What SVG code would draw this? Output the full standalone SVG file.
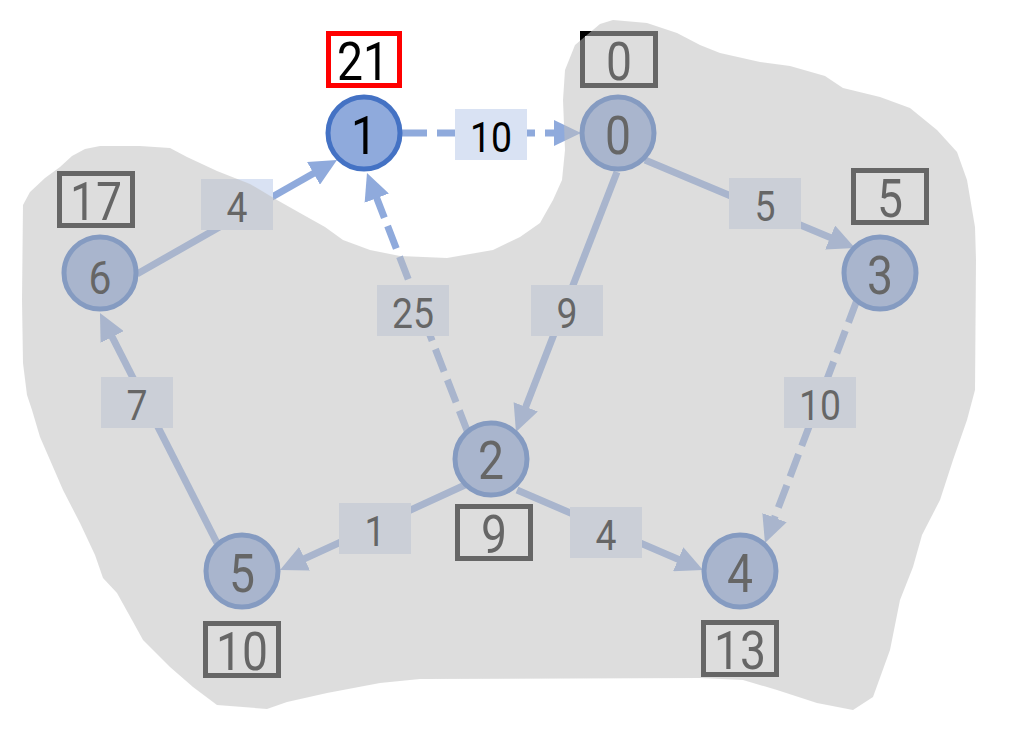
<svg xmlns="http://www.w3.org/2000/svg" width="1017" height="732" viewBox="0 0 1017 732">
<style>
.edge{stroke:#8faadc;stroke-width:7;fill:none}
.dash{stroke-dasharray:26 10}
.lbl{fill:#d9e2f3}
text{font-family:Roboto,'Liberation Sans',sans-serif;fill:#000;text-anchor:middle}
.big{font-size:53px}
.small{font-size:42px}
.node circle{fill:#8faadc;stroke:#4472c4;stroke-width:5}
.dist{fill:none;stroke:#000;stroke-width:5}
.cur{fill:none;stroke:#ff0000;stroke-width:5}
</style>
<defs>
<marker id="arr" markerUnits="userSpaceOnUse" markerWidth="27" markerHeight="26" viewBox="0 0 27 26" refX="17" refY="13" orient="auto">
<path d="M0,0 L27,13 L0,26 z" fill="#8faadc"/>
</marker>
</defs>
<rect width="1017" height="732" fill="#fff"/>
<g id="connectors">
<g id="e1-0"><line class="edge dash" x1="401" y1="133" x2="571" y2="133" marker-end="url(#arr)"/><rect class="lbl" x="455" y="109" width="72" height="51"/><text class="small" x="491" y="152" textLength="42" lengthAdjust="spacingAndGlyphs">10</text></g>
<g id="e6-1"><line class="edge" x1="137" y1="274" x2="328.3" y2="165" marker-end="url(#arr)"/><rect class="lbl" x="201" y="179" width="72" height="51"/><text class="small" x="237" y="222" textLength="21" lengthAdjust="spacingAndGlyphs">4</text></g>
<g id="e2-1"><line class="edge dash" x1="468" y1="433" x2="370.6" y2="182.3" marker-end="url(#arr)" style="stroke-dasharray:24 9"/><rect class="lbl" x="377" y="285" width="72" height="51"/><text class="small" x="413" y="328" textLength="42" lengthAdjust="spacingAndGlyphs">25</text></g>
<g id="e0-3"><line class="edge" x1="645" y1="160" x2="845.8" y2="244.1" marker-end="url(#arr)"/><rect class="lbl" x="729" y="178" width="72" height="51"/><text class="small" x="765" y="221" textLength="21" lengthAdjust="spacingAndGlyphs">5</text></g>
<g id="e0-2"><line class="edge" x1="617" y1="172" x2="519.6" y2="422.7" marker-end="url(#arr)"/><rect class="lbl" x="531" y="285" width="72" height="51"/><text class="small" x="567" y="328" textLength="21" lengthAdjust="spacingAndGlyphs">9</text></g>
<g id="e3-4"><line class="edge dash" x1="857" y1="300" x2="768.5" y2="533.6" marker-end="url(#arr)" style="stroke-dasharray:24 9"/><rect class="lbl" x="784" y="377" width="72" height="51"/><text class="small" x="820" y="420" textLength="42" lengthAdjust="spacingAndGlyphs">10</text></g>
<g id="e2-5"><line class="edge" x1="465" y1="485" x2="289.1" y2="565.8" marker-end="url(#arr)"/><rect class="lbl" x="339" y="503" width="72" height="51"/><text class="small" x="375" y="546" textLength="21" lengthAdjust="spacingAndGlyphs">1</text></g>
<g id="e2-4"><line class="edge" x1="517" y1="490" x2="693.8" y2="566" marker-end="url(#arr)"/><rect class="lbl" x="570" y="507" width="72" height="51"/><text class="small" x="606" y="550" textLength="21" lengthAdjust="spacingAndGlyphs">4</text></g>
<g id="e5-6"><line class="edge" x1="217" y1="543" x2="104.5" y2="321.9" marker-end="url(#arr)"/><rect class="lbl" x="101" y="377" width="72" height="51"/><text class="small" x="137" y="420" textLength="21" lengthAdjust="spacingAndGlyphs">7</text></g>
</g>
<g id="node1" class="node"><circle cx="364" cy="133" r="36"/><text class="big" x="364" y="154" textLength="26" lengthAdjust="spacingAndGlyphs">1</text><rect class="cur" x="328.5" y="33.5" width="71" height="52"/><text class="big" x="363" y="80" textLength="52" lengthAdjust="spacingAndGlyphs">21</text></g>
<g id="node0" class="node"><circle cx="618" cy="133" r="36"/><text class="big" x="618" y="154" textLength="26" lengthAdjust="spacingAndGlyphs">0</text><rect class="dist" x="582.5" y="33.5" width="73" height="52"/><text class="big" x="619" y="80" textLength="26" lengthAdjust="spacingAndGlyphs">0</text></g>
<g id="node6" class="node"><circle cx="100" cy="273" r="36"/><text x="100" y="294" style="font-size:47px" textLength="23" lengthAdjust="spacingAndGlyphs">6</text><rect class="dist" x="59.5" y="173.5" width="73" height="52"/><text class="big" x="96" y="220" textLength="52" lengthAdjust="spacingAndGlyphs">17</text></g>
<g id="node3" class="node"><circle cx="880" cy="273" r="36"/><text class="big" x="880" y="294" textLength="26" lengthAdjust="spacingAndGlyphs">3</text><rect class="dist" x="853.5" y="170.5" width="73" height="52"/><text class="big" x="890" y="217" textLength="26" lengthAdjust="spacingAndGlyphs">5</text></g>
<g id="node2" class="node"><circle cx="491" cy="459" r="36"/><text class="big" x="491" y="479" textLength="26" lengthAdjust="spacingAndGlyphs">2</text><rect class="dist" x="457.5" y="506.5" width="73" height="52"/><text class="big" x="494" y="553" textLength="26" lengthAdjust="spacingAndGlyphs">9</text></g>
<g id="node5" class="node"><circle cx="242" cy="571" r="36"/><text class="big" x="242" y="592" textLength="26" lengthAdjust="spacingAndGlyphs">5</text><rect class="dist" x="205.5" y="623.5" width="73" height="52"/><text class="big" x="242" y="670" textLength="52" lengthAdjust="spacingAndGlyphs">10</text></g>
<g id="node4" class="node"><circle cx="740" cy="571" r="36"/><text class="big" x="740" y="592" textLength="26" lengthAdjust="spacingAndGlyphs">4</text><rect class="dist" x="703.5" y="622.5" width="73" height="52"/><text class="big" x="740" y="669" textLength="52" lengthAdjust="spacingAndGlyphs">13</text></g>
<path id="region" fill="#bfbfbf" fill-opacity="0.533" d="M23,205 L30,192 L45,178 L60,167 L72,156 L85,149 L100,146 L140,146 L170,148 L187,157 L217,171 L250,184 L277,200 L300,213 L325,227 L343,240 L370,250 L400,256 L447,258 L493,250 L520,237 L540,223 L553,200 L562,180 L565,150 L563,100 L565,70 L575,45 L600,24 L613,20 L647,23 L677,33 L700,45 L720,53 L760,62 L790,66 L825,76 L843,88 L880,97 L910,108 L937,130 L957,152 L967,180 L975,227 L976,260 L975,390 L967,420 L953,460 L940,500 L922,535 L913,567 L900,600 L890,650 L873,697 L853,710 L817,703 L777,690 L743,680 L700,678 L420,679 L380,683 L327,693 L287,702 L267,709 L217,705 L193,687 L170,667 L143,640 L132,620 L117,593 L103,578 L95,555 L80,523 L63,490 L50,460 L40,437 L32,410 L27,395 L23,363 L22,300 Z"/>
</svg>
